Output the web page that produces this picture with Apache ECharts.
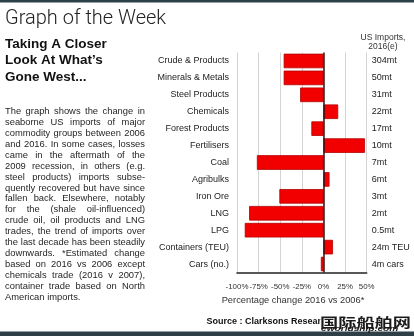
<!DOCTYPE html>
<html>
<head>
<meta charset="utf-8">
<script src="https://cdn.jsdelivr.net/npm/echarts@6/dist/echarts.min.js"></script>
<style>
  html, body { margin: 0; padding: 0; background: #fff; }
  #chart { width: 414px; height: 336px; }
</style>
</head>
<body>
<div id="chart"></div>
<script>
// Commodity groups, top to bottom
const categories = [
  'Crude & Products', 'Minerals & Metals', 'Steel Products', 'Chemicals',
  'Forest Products', 'Fertilisers', 'Coal', 'Agribulks', 'Iron Ore',
  'LNG', 'LPG', 'Containers (TEU)', 'Cars (no.)'
];
// Percentage change in seaborne US imports, 2016 vs 2006
const pctChange = [-46, -46, -27, 17, -14, 48, -77, 7, -51, -86, -91, 11, -3];
// US imports volume, 2016 (estimated)
const imports2016 = [
  '304mt', '50mt', '31mt', '22mt', '17mt', '10mt', '7mt', '6mt', '3mt',
  '2mt', '0.5mt', '24m TEU', '4m cars'
];
// Percentage axis ticks
const xTicks = [-100, -75, -50, -25, 0, 25, 50];

const bodyLines = [
  'The graph shows the change in',
  'seaborne US imports of major',
  'commodity groups between 2006',
  'and 2016. In some cases, losses',
  'came in the aftermath of the',
  '2009 recession, in others (e.g.',
  'steel products) imports subse-',
  'quently recovered but have since',
  'fallen back. Elsewhere, notably',
  'for the (shale oil-influenced)',
  'crude oil, oil products and LNG',
  'trades, the trend of imports over',
  'the last decade has been steadily',
  'downwards. *Estimated change',
  'based on 2016 vs 2006 except',
  'chemicals trade (2016 v 2007),',
  'container trade based on North',
  'American imports.'
];

const FONT = '"Liberation Sans", Arial, Helvetica, sans-serif';

// Justified paragraph: each word placed so lines fill the column width
function justifiedText(lines, left, width, firstY, lineGap) {
  const ctx = document.createElement('canvas').getContext('2d');
  ctx.font = '10px ' + FONT;
  let widest = 0;
  lines.forEach(l => { widest = Math.max(widest, ctx.measureText(l).width); });
  const size = Math.min(9.6, 10 * (width - 1) / widest);
  ctx.font = size + 'px ' + FONT;
  const els = [];
  lines.forEach((line, i) => {
    const words = line.split(' ');
    const y = firstY + i * lineGap;
    const widths = words.map(w => ctx.measureText(w).width);
    const total = widths.reduce((a, b) => a + b, 0);
    const last = i === lines.length - 1;
    const gap = (!last && words.length > 1)
      ? (width - total) / (words.length - 1)
      : ctx.measureText(' ').width;
    let x = left;
    words.forEach((w, j) => {
      els.push({
        type: 'text', x: x, y: y, silent: true,
        style: { text: w, fill: '#262626', font: size + 'px ' + FONT,
                 verticalAlign: 'middle', align: 'left' }
      });
      x += widths[j] + gap;
    });
  });
  return els;
}

const chart = echarts.init(document.getElementById('chart'), null, { renderer: 'canvas' });

const graphics = [
  { type: 'rect', shape: { x: 0, y: 0, width: 414, height: 2.5 }, style: { fill: '#2d3f47' }, silent: true },
  { type: 'rect', shape: { x: 0, y: 331.5, width: 414, height: 4.5 }, style: { fill: '#2d3f47' }, silent: true },
  { type: 'text', x: 5, y: 18.5, silent: true,
    style: { text: 'Graph of the Week', fill: '#222', fontFamily: 'Roboto, ' + FONT,
             fontWeight: 300, fontSize: 20, verticalAlign: 'middle' } },
  { type: 'text', x: 5, y: 35.7, silent: true,
    style: { text: 'Taking A Closer\nLook At What\u2019s\nGone West...', fill: '#111',
             fontFamily: FONT, fontWeight: 'bold', fontSize: 13.5, lineHeight: 16.7,
             verticalAlign: 'top' } },
  { type: 'text', x: 383, y: 38, silent: true,
    style: { text: 'US Imports,', fill: '#333', fontFamily: FONT, fontSize: 8.5,
             align: 'center', verticalAlign: 'middle' } },
  { type: 'text', x: 383, y: 47, silent: true,
    style: { text: '2016(e)', fill: '#333', fontFamily: FONT, fontSize: 8.5,
             align: 'center', verticalAlign: 'middle' } },
  { type: 'text', x: 293, y: 300.5, silent: true,
    style: { text: 'Percentage change 2016 vs 2006*', fill: '#333', fontFamily: FONT,
             fontSize: 9.3, align: 'center', verticalAlign: 'middle' } },
  { type: 'text', x: 206.5, y: 321.7, silent: true,
    style: { text: 'Source : Clarksons Research', fill: '#111', fontFamily: FONT,
             fontWeight: 'bold', fontSize: 9, verticalAlign: 'middle' } },
  { type: 'text', x: 320, y: 322, scaleX: 1.4, silent: true,
    style: { text: '国际船舶网', fill: '#1a1a1a', stroke: '#fff', lineWidth: 1.5,
             fontFamily: '"Noto Sans CJK SC", sans-serif', fontWeight: 'bold',
             fontSize: 13, verticalAlign: 'middle' } },
  { type: 'text', x: 321, y: 329.3, scaleX: 1.45, silent: true,
    style: { text: 'eworldship.com', fill: '#1a1a1a', fontFamily: FONT,
             fontStyle: 'italic', fontWeight: 'bold', fontSize: 7,
             verticalAlign: 'middle' } }
].concat(justifiedText(bodyLines, 5, 140, 111.7, 10.9));

chart.setOption({
  animation: false,
  textStyle: { fontFamily: FONT },
  grid: { left: 237, right: 47.3, top: 52.5, bottom: 63.5 },
  xAxis: {
    type: 'value',
    min: xTicks[0],
    max: xTicks[xTicks.length - 1],
    interval: xTicks[1] - xTicks[0],
    axisLine: { show: true, lineStyle: { color: '#222', width: 1.5 } },
    axisTick: { show: false },
    splitLine: { show: true, lineStyle: { color: '#d4d4d4', width: 1 } },
    axisLabel: {
      formatter: '{value}%', color: '#333', fontSize: 7.9, margin: 10,
      showMinLabel: true, showMaxLabel: true, hideOverlap: false
    }
  },
  yAxis: [
    {
      type: 'category',
      data: categories,
      inverse: true,
      axisLine: { show: false },
      axisTick: { show: false },
      axisLabel: { color: '#222', fontSize: 9, margin: 8 }
    },
    {
      type: 'category',
      data: imports2016,
      inverse: true,
      position: 'right',
      axisLine: { show: false },
      axisTick: { show: false },
      axisLabel: { color: '#222', fontSize: 9, margin: 5, align: 'left' }
    }
  ],
  series: [{
    type: 'bar',
    data: pctChange,
    yAxisIndex: 0,
    barCategoryGap: '14%',
    itemStyle: { color: '#f20000', borderColor: '#b30000', borderWidth: 0.8 },
    markLine: {
      silent: true,
      symbol: 'none',
      label: { show: false },
      lineStyle: { color: '#3a1010', width: 1.5, type: 'solid' },
      data: [{ xAxis: 0 }]
    }
  }],
  graphic: graphics
});
</script>
</body>
</html>
